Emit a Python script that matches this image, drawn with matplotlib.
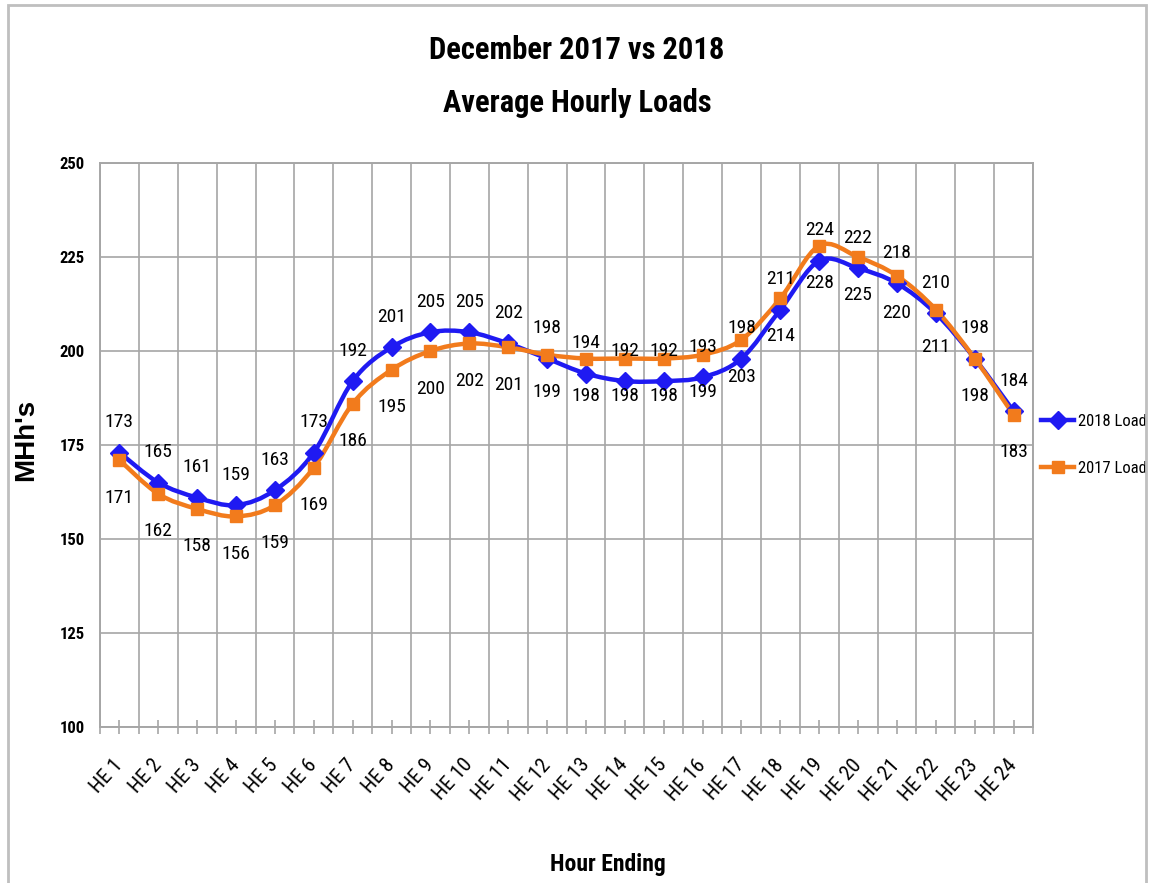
import matplotlib
matplotlib.use("Agg")
import matplotlib.pyplot as plt
import matplotlib.patches as mpatches
from matplotlib.path import Path
from matplotlib.lines import Line2D
from matplotlib import font_manager
import numpy as np

# Daten aus dem Diagramm
hours = ["HE %d" % h for h in range(1, 25)]
load_2018 = [173, 165, 161, 159, 163, 173, 192, 201, 205, 205, 202, 198,
             194, 192, 192, 193, 198, 211, 224, 222, 218, 210, 198, 184]
load_2017 = [171, 162, 158, 156, 159, 169, 186, 195, 200, 202, 201, 199,
             198, 198, 198, 199, 203, 214, 228, 225, 220, 211, 198, 183]
y_ticks = [100, 125, 150, 175, 200, 225, 250]

# schmale Schrift suchen, die installiert ist
installed = {f.name for f in font_manager.fontManager.ttflist}
cands = ['Liberation Sans Narrow', 'DejaVu Sans Condensed', 'Roboto Condensed',
         'Open Sans Condensed', 'Lato', 'Roboto']
NARROW = [c for c in cands if c in installed][:1] + ['DejaVu Sans']
BLUE = '#1f1af2'
ORANGE = '#f27b1c'
GRID = '#a6a6a6'


def smooth_path(xs, ys):
    # geglaettete Linie wie in Excel (Bezier durch die Punkte)
    n = len(xs)
    verts = [(xs[0], ys[0])]
    codes = [Path.MOVETO]
    for i in range(n - 1):
        a = max(i - 1, 0)
        b = min(i + 2, n - 1)
        c1 = (xs[i] + (xs[i + 1] - xs[a]) / 6, ys[i] + (ys[i + 1] - ys[a]) / 6)
        c2 = (xs[i + 1] - (xs[b] - xs[i]) / 6, ys[i + 1] - (ys[b] - ys[i]) / 6)
        verts += [c1, c2, (xs[i + 1], ys[i + 1])]
        codes += [Path.CURVE4] * 3
    return Path(verts, codes)


fig = plt.figure(figsize=(11.53, 8.83), dpi=100)
ax = fig.add_axes([100 / 1153, 1 - 727 / 883, 933 / 1153, 564 / 883])

x = np.arange(len(hours))

for vals, col, mk, ms in [(load_2018, BLUE, 'D', 9), (load_2017, ORANGE, 's', 9)]:
    p = mpatches.PathPatch(smooth_path(x, vals), fill=False, edgecolor=col,
                           lw=3.2, capstyle='round', joinstyle='round', zorder=3)
    ax.add_patch(p)
    ax.plot(x, vals, ls='none', marker=mk, ms=ms, color=col, zorder=4)

# Datenbeschriftungen: 2018 oben, 2017 unten
for i in range(len(hours)):
    ax.annotate(str(load_2018[i]), (x[i], load_2018[i]), xytext=(0, 22),
                textcoords='offset points', ha='center', va='center',
                fontsize=14, family=NARROW, fontstretch='condensed', zorder=5)
    ax.annotate(str(load_2017[i]), (x[i], load_2017[i]), xytext=(0, -27),
                textcoords='offset points', ha='center', va='center',
                fontsize=14, family=NARROW, fontstretch='condensed', zorder=5)

ax.set_xlim(-0.5, len(hours) - 0.5)
ax.set_ylim(100, 250)
ax.set_yticks(y_ticks)
ax.set_yticklabels([str(v) for v in y_ticks], fontsize=12, fontweight='bold',
                   family=NARROW, fontstretch='condensed')
ax.tick_params(axis='y', length=0, pad=11)

# Kategoriengrenzen als Gitter, Striche in der Mitte
ax.set_xticks(np.arange(len(hours) + 1) - 0.5)
ax.set_xticklabels([])
ax.set_xticks(x, minor=True)
ax.set_xticklabels(hours, minor=True, rotation=48, ha='right', va='center',
                   rotation_mode='anchor', fontsize=15, family=NARROW,
                   fontstretch='condensed')
ax.tick_params(axis='x', which='major', length=5, color=GRID, width=1.2)
ax.tick_params(axis='x', which='minor', length=10, direction='inout',
               color=GRID, width=1.2, pad=20)
ax.grid(True, which='major', color=GRID, lw=1.2)
ax.set_axisbelow(True)
for s in ax.spines.values():
    s.set_color(GRID)
    s.set_linewidth(1.4)

fig.text(26 / 1153, 1 - 440 / 883, "MHh's", rotation=90, ha='center', va='center',
         fontsize=20, fontweight='bold', family=['Liberation Sans', 'DejaVu Sans'])
fig.text(608 / 1153, 1 - 864 / 883, "Hour Ending", ha='center', va='center',
         fontsize=17, fontweight='bold', family=NARROW, fontstretch='condensed')

fig.text(577 / 1153, 1 - 50 / 883, "December 2017 vs 2018", ha='center', va='center',
         fontsize=22, fontweight='bold', family=NARROW, fontstretch='condensed')
fig.text(577 / 1153, 1 - 103 / 883, "Average Hourly Loads", ha='center', va='center',
         fontsize=22, fontweight='bold', family=NARROW, fontstretch='condensed')

handles = [Line2D([], [], color=BLUE, lw=3.2, marker='D', ms=9),
           Line2D([], [], color=ORANGE, lw=3.2, marker='s', ms=9)]
leg = ax.legend(handles, ['2018 Load', '2017 Load'], loc='center left',
                bbox_to_anchor=(0.998, 0.5), frameon=False, handlelength=2.0,
                handletextpad=0.2, labelspacing=1.9, borderaxespad=0.2,
                prop={'family': NARROW, 'size': 12, 'stretch': 'condensed'})

# Rahmen ums Diagramm
fig.patches.append(mpatches.Rectangle((8 / 1153, -0.01), 1138 / 1153, 1 - 5 / 883 + 0.01,
                                      transform=fig.transFigure, fill=False,
                                      edgecolor='#bfbfbf', lw=2))

plt.savefig("out.png", dpi=100)
